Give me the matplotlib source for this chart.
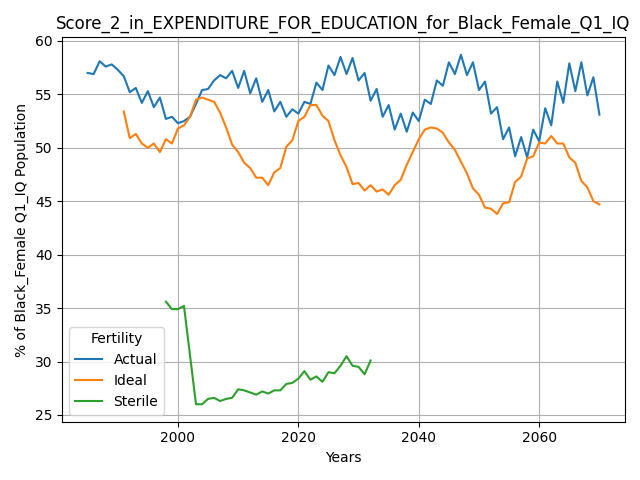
import matplotlib
matplotlib.use("Agg")
import matplotlib.pyplot as plt

actual_years = list(range(1985, 2071))
actual = [57.0, 56.9, 58.1, 57.6, 57.8, 57.3, 56.7, 55.2, 55.6, 54.2,
          55.3, 53.8, 54.7, 52.7, 52.9, 52.3, 52.5, 52.9, 54.1, 55.4,
          55.5, 56.3, 56.8, 56.5, 57.2, 55.6, 57.2, 55.1, 56.5, 54.3,
          55.4, 53.4, 54.3, 52.9, 53.6, 53.2, 54.3, 54.1, 56.1, 55.4,
          57.7, 56.8, 58.5, 56.9, 58.4, 56.3, 57.0, 54.4, 55.5, 52.9,
          54.0, 51.7, 53.2, 51.5, 53.3, 52.5, 54.5, 54.1, 56.3, 55.8,
          58.0, 56.9, 58.7, 56.8, 58.0, 55.4, 56.2, 53.2, 53.8, 50.8,
          51.9, 49.2, 51.0, 49.1, 51.7, 50.6, 53.7, 52.1, 56.2, 54.2,
          57.9, 55.3, 58.0, 54.9, 56.6, 53.1]

ideal_years = list(range(1991, 2071))
ideal = [53.4, 50.9, 51.3, 50.4, 50.0, 50.4, 49.6, 50.8, 50.4, 51.8,
         52.1, 52.9, 54.5, 54.7, 54.5, 54.3, 53.3, 51.9, 50.3, 49.6,
         48.6, 48.1, 47.2, 47.2, 46.5, 47.7, 48.1, 50.1, 50.7, 52.5,
         52.9, 54.0, 54.0, 53.0, 52.5, 50.7, 49.3, 48.2, 46.6, 46.7,
         46.0, 46.5, 45.9, 46.1, 45.6, 46.5, 47.0, 48.4, 49.6, 50.8,
         51.7, 51.9, 51.8, 51.4, 50.5, 49.8, 48.7, 47.6, 46.2, 45.6,
         44.4, 44.3, 43.8, 44.8, 44.9, 46.8, 47.3, 49.0, 49.2, 50.5,
         50.4, 51.1, 50.4, 50.4, 49.1, 48.6, 46.9, 46.3, 45.0, 44.7]

sterile_years = list(range(1998, 2033))
sterile = [35.6, 34.9, 34.9, 35.2, 30.6, 26.0, 26.0, 26.5, 26.6, 26.3,
           26.5, 26.6, 27.4, 27.3, 27.1, 26.9, 27.2, 27.0, 27.3, 27.3,
           27.9, 28.0, 28.4, 29.1, 28.3, 28.6, 28.1, 29.0, 28.9, 29.6,
           30.5, 29.6, 29.5, 28.8, 30.1]

fig, ax = plt.subplots(figsize=(6.4, 4.8), dpi=100)
ax.plot(actual_years, actual, label="Actual")
ax.plot(ideal_years, ideal, label="Ideal")
ax.plot(sterile_years, sterile, label="Sterile")
ax.grid(True)
ax.set_title("Score_2_in_EXPENDITURE_FOR_EDUCATION_for_Black_Female_Q1_IQ")
ax.set_xlabel("Years")
ax.set_ylabel("% of Black_Female Q1_IQ Population")
ax.legend(title="Fertility", loc="lower left")
fig.tight_layout()
fig.savefig("out.png")
